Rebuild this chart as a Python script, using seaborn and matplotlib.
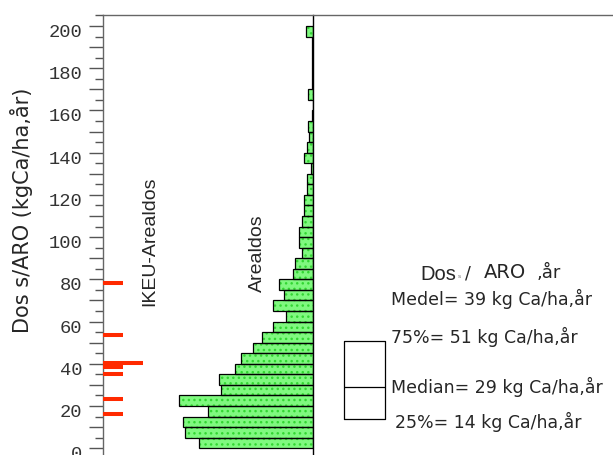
import numpy as np
import pandas as pd
import matplotlib
matplotlib.use("Agg")
import matplotlib.pyplot as plt
import matplotlib.transforms as mtransforms
from matplotlib.ticker import MultipleLocator, FuncFormatter
import seaborn as sns

# ---------------- data ----------------
bin_width = 5
bin_range = (0, 200)
areal_counts = [114.3, 127.7, 130.0, 105.3, 134.3, 92.0, 94.0, 78.3, 71.7, 60.3,
                51.3, 40.3, 26.7, 40.3, 29.3, 33.7, 20.3, 18.0, 11.3, 13.7,
                13.7, 11.3, 9.0, 9.0, 6.3, 6.3, 2.0, 9.0, 6.3, 4.3,
                5.0, 1.3, 0.0, 5.0, 1.3, 1.3, 1.3, 1.3, 1.3, 7.0]
ikeu_doses = [78.3, 53.5, 40.5, 40.5, 38.5, 35.4, 23.3, 16.1]
stat_names = ["Medel", "75%", "Median", "25%"]
stat_values = [39, 51, 29, 14]
unit = "kg Ca/ha,år"
ylabel = "Dos s/ARO (kgCa/ha,år)"

bin_centers = np.arange(bin_range[0], bin_range[1], bin_width) + bin_width / 2
df = pd.DataFrame({"dos": bin_centers, "n": areal_counts})

# ---------------- style ----------------
sns.set_style("white")
plt.rcParams["font.family"] = ["DejaVu Sans"]
plt.rcParams["hatch.linewidth"] = 1.0

W, H = 613, 455
fig = plt.figure(figsize=(W / 100, H / 100), dpi=100)
x0, x_line, y_top = 102.7, 313.0, 15.0
ylim = (-3.2, 205.2)

ax_h = fig.add_axes([x0 / W, 0, (x_line - x0) / W, 1 - y_top / H], zorder=1)
ax = fig.add_axes([x0 / W, 0, 1 - x0 / W, 1 - y_top / H], zorder=2)
ax.patch.set_visible(False)

# histogram (fill with dotted pattern, then outline)
sns.histplot(data=df, y="dos", weights="n", binwidth=bin_width,
             binrange=bin_range, ax=ax_h,
             color="#7ff97f", edgecolor="#33d633", linewidth=0, alpha=1)
for p in ax_h.patches:
    p.set_hatch("...")
sns.histplot(data=df, y="dos", weights="n", binwidth=bin_width,
             binrange=bin_range, ax=ax_h, element="bars",
             fill=False, color="black", linewidth=0.9)
for p in ax_h.patches[len(areal_counts):]:
    p.set_edgecolor("black")
ax_h.set_xlim(x_line - x0, 0)
ax_h.set_ylim(*ylim)
ax_h.set_xticks([])
ax_h.set_yticks([])
ax_h.set_xlabel("")
ax_h.set_ylabel("")
for s in ["top", "left", "bottom"]:
    ax_h.spines[s].set_visible(False)
ax_h.spines["right"].set_color("black")
ax_h.spines["right"].set_linewidth(1.0)

# main axes
ax.set_xlim(0, W - x0)
ax.set_ylim(*ylim)
ax.set_xticks([])
ax.spines["right"].set_visible(False)
ax.spines["bottom"].set_visible(False)
for s in ["top", "left"]:
    ax.spines[s].set_color("#666666")
    ax.spines[s].set_linewidth(1.0)
ax.yaxis.set_major_locator(MultipleLocator(10))
ax.yaxis.set_minor_locator(MultipleLocator(5))
ax.yaxis.set_major_formatter(FuncFormatter(
    lambda v, p: f"{int(round(v))}" if int(round(v)) in range(0, 201, 20) else ""))
ax.tick_params(axis="y", which="both", left=True, direction="out")
ax.tick_params(axis="y", which="major", length=9.9, width=1.0, color="#555555",
               labelsize=13.5, labelcolor="#333333", pad=5)
ax.tick_params(axis="y", which="minor", length=5.5, width=1.0, color="#555555")
for lab in ax.get_yticklabels():
    lab.set_fontfamily("Liberation Mono")
offset = mtransforms.ScaledTranslation(0, -3.2 / 72, fig.dpi_scale_trans)
for lab in ax.get_yticklabels():
    lab.set_transform(lab.get_transform() + offset)

# IKEU red marks (stacked when repeated)
seen = {}
for v in ikeu_doses:
    k = seen.get(v, 0)
    seen[v] = k + 1
    ax.hlines(v, 0.6 + k * 20, 0.6 + k * 20 + 19.4, color="#ff2a00", lw=2.9,
              zorder=5)

# box (quartiles + median)
q25, q50, q75 = stat_values[3], stat_values[2], stat_values[1]
ax.bxp([{"q1": q25, "med": q50, "q3": q75, "whislo": q25, "whishi": q75,
         "fliers": []}],
       positions=[364.65 - x0], widths=40.7, showcaps=False, showfliers=False,
       boxprops=dict(color="black", lw=0.9),
       medianprops=dict(color="black", lw=0.9),
       whiskerprops=dict(lw=0), manage_ticks=False)
ax.set_xlim(0, W - x0)

# ---------------- texts ----------------
def fx(px):
    return px / W


def fy(py):
    return 1 - py / H


fig.text(fx(22), fy(210), ylabel, rotation=90, ha="center", va="center",
         fontsize=15, family="DejaVu Sans")
fig.text(fx(150), fy(241.5), "IKEU-Arealdos", rotation=90, ha="center",
         va="center", fontsize=14, family="Liberation Sans")
fig.text(fx(257), fy(253.5), "Arealdos", rotation=90, ha="center",
         va="center", fontsize=14, family="Liberation Sans")

fig.text(fx(420), fy(279.5), "Dos", ha="left", va="baseline", fontsize=14.5,
         family="Liberation Sans")
fig.text(fx(458), fy(278), "s", ha="left", va="baseline", fontsize=4.5,
         family="Liberation Sans", color="#777777")
fig.text(fx(465), fy(278.5), "/", ha="left", va="baseline", fontsize=12.5,
         family="DejaVu Sans")
fig.text(fx(484), fy(278.5), "ARO", ha="left", va="baseline", fontsize=14,
         family="DejaVu Sans")
fig.text(fx(537), fy(278.5), ",år", ha="left", va="baseline", fontsize=13,
         family="DejaVu Sans")

stat_pos = [(391, 305), (391, 343), (391, 393), (395, 428)]
for name, val, (px, py) in zip(stat_names, stat_values, stat_pos):
    fig.text(fx(px), fy(py), f"{name}= {val} {unit}", ha="left",
             va="baseline", fontsize=12.5, family="DejaVu Sans")

fig.savefig("out.png", dpi=100)
